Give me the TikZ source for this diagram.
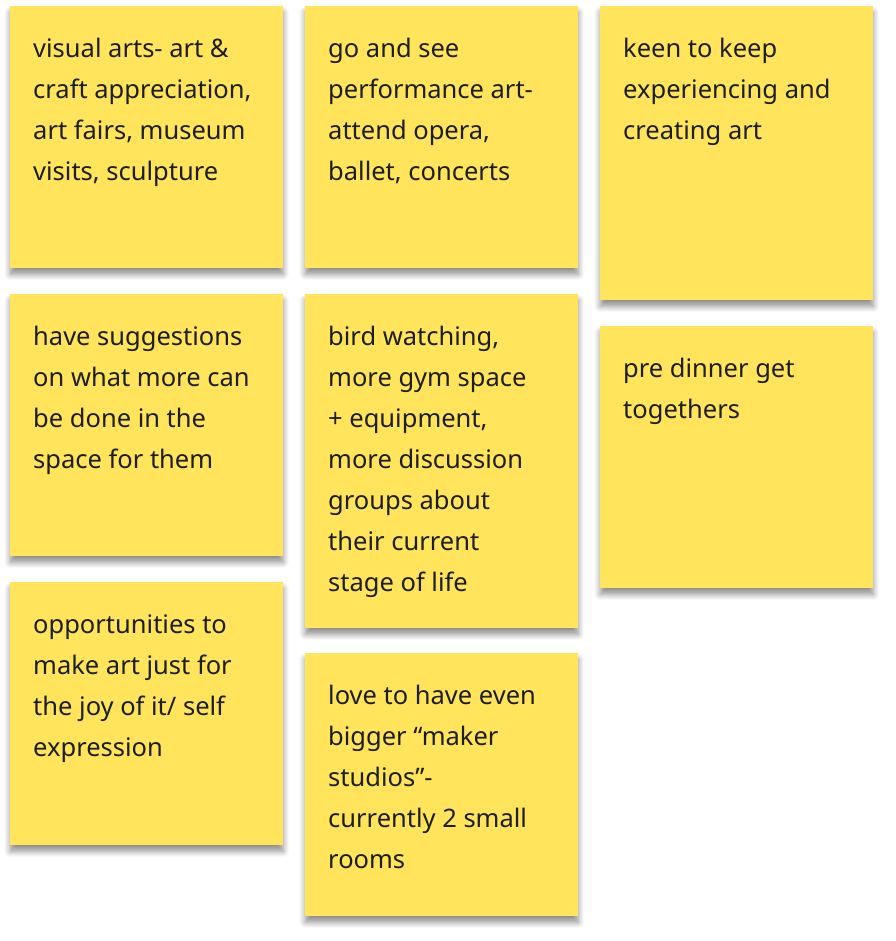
\documentclass[tikz,border=0pt]{standalone}
\usepackage{fontspec}
\setmainfont{Noto Sans}
\usetikzlibrary{shadows.blur}
\definecolor{sticky}{HTML}{FFE45C}
\definecolor{ink}{HTML}{1E1E1E}
\tikzset{
  note/.style={fill=sticky, draw=none, anchor=north west, minimum width=273pt, inner sep=0pt,
    blur shadow={shadow xshift=0pt, shadow yshift=-6pt, shadow blur steps=6, shadow blur radius=6pt, shadow opacity=45}},
  txt/.style={anchor=north west, align=left, inner sep=0pt, text=ink,
    font=\fontsize{25.5pt}{41pt}\selectfont}
}
\begin{document}
\begin{tikzpicture}[x=1pt,y=-1pt]
\useasboundingbox (0,0) rectangle (895,941);
\node[note, minimum height=262pt] (n1) at (10,6) {};
\node[note, minimum height=262pt] (n2) at (10,294) {};
\node[note, minimum height=263pt] (n3) at (10,582) {};
\node[note, minimum height=262pt] (n4) at (305,6) {};
\node[note, minimum height=334pt] (n5) at (305,294) {};
\node[note, minimum height=263pt] (n6) at (305,653) {};
\node[note, minimum height=294pt] (n7) at (600,6) {};
\node[note, minimum height=262pt] (n8) at (600,326) {};
\path[every node/.style={txt}]
 ([shift={(23,32)}]n1.north west) node (t1) {visual arts- art \&\\craft appreciation,\\art fairs, museum\\visits, sculpture}
 ([shift={(23,32)}]n2.north west) node (t2) {have suggestions\\on what more can\\be done in the\\space for them}
 ([shift={(23,32)}]n3.north west) node (t3) {opportunities to\\make art just for\\the joy of it/ self\\expression}
 ([shift={(23,32)}]n4.north west) node (t4) {go and see\\performance art-\\attend opera,\\ballet, concerts}
 ([shift={(23,32)}]n5.north west) node (t5) {bird watching,\\more gym space\\+ equipment,\\more discussion\\groups about\\their current\\stage of life}
 ([shift={(23,32)}]n6.north west) node (t6) {love to have even\\bigger “maker\\studios”-\\currently 2 small\\rooms}
 ([shift={(23,32)}]n7.north west) node (t7) {keen to keep\\experiencing and\\creating art}
 ([shift={(23,32)}]n8.north west) node (t8) {pre dinner get\\togethers};
\end{tikzpicture}
\end{document}
